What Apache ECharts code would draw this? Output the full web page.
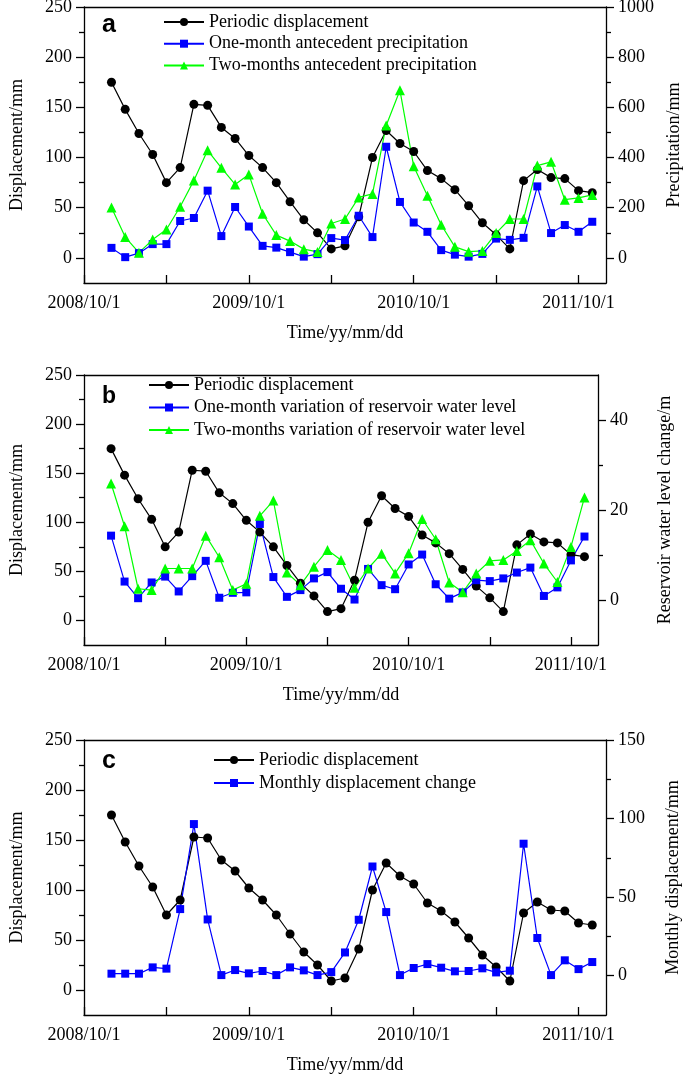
<!DOCTYPE html>
<html>
<head>
<meta charset="utf-8">
<script src="https://cdn.jsdelivr.net/npm/echarts@6/dist/echarts.min.js"></script>
<style>
  html, body { margin: 0; padding: 0; background: #fff; }
  #chart { width: 685px; height: 1079px; }
</style>
</head>
<body>
<div id="chart"></div>
<script>
// Monthly observation dates (first day of each month)
const months = [
  '2008/12/1', '2009/1/1', '2009/2/1', '2009/3/1', '2009/4/1', '2009/5/1',
  '2009/6/1', '2009/7/1', '2009/8/1', '2009/9/1', '2009/10/1', '2009/11/1',
  '2009/12/1', '2010/1/1', '2010/2/1', '2010/3/1', '2010/4/1', '2010/5/1',
  '2010/6/1', '2010/7/1', '2010/8/1', '2010/9/1', '2010/10/1', '2010/11/1',
  '2010/12/1', '2011/1/1', '2011/2/1', '2011/3/1', '2011/4/1', '2011/5/1',
  '2011/6/1', '2011/7/1', '2011/8/1', '2011/9/1', '2011/10/1', '2011/11/1'
];
const dateTickLabels = ['2008/10/1', '2009/10/1', '2010/10/1', '2011/10/1'];

// Periodic displacement (mm), same in all panels
const periodicDisp = [175, 148, 124, 103, 75, 90, 153, 152, 130, 119, 102, 90,
  75, 56, 38, 25, 9, 12, 41, 100, 127, 114, 106, 87,
  79, 68, 52, 35, 23, 9, 77, 88, 80, 79, 67, 65];
// Panel a: antecedent precipitation (mm)
const precipOneMonth = [40, 3, 19, 55, 55, 147, 159, 268, 87, 203, 125, 48,
  41, 23, 5, 15, 79, 71, 168, 83, 443, 223, 141, 104,
  31, 13, 5, 16, 77, 72, 80, 285, 99, 131, 104, 144];
const precipTwoMonths = [201, 83, 21, 73, 113, 204, 309, 429, 359, 293, 332, 176,
  91, 67, 35, 24, 137, 155, 241, 255, 528, 668, 365, 248,
  132, 44, 25, 28, 99, 155, 155, 368, 383, 232, 239, 251];
// Panel b: variation of reservoir water level (m)
const reservoirOneMonth = [14.3, 4.1, 0.4, 3.9, 5.2, 1.9, 5.3, 8.7, 0.5, 1.6, 1.7, 16.9,
  5.1, 0.7, 2.2, 4.8, 6.2, 2.5, 0.1, 6.9, 3.3, 2.4, 7.9, 10.1,
  3.5, 0.3, 1.7, 4.4, 4.2, 4.8, 6.1, 7.2, 0.9, 2.8, 8.8, 14.1];
const reservoirTwoMonths = [25.9, 16.4, 2.5, 2.2, 7.0, 7.0, 7.0, 14.3, 9.5, 2.2, 3.6, 18.7,
  22.1, 6.1, 3.3, 7.4, 11.1, 8.9, 2.7, 7.0, 10.3, 5.9, 10.4, 18.0,
  13.5, 3.9, 1.7, 5.9, 8.7, 8.9, 10.9, 13.3, 8.1, 4.0, 11.8, 22.8];
// Panel c: monthly displacement change (mm)
const monthlyChange = [1.3, 1.3, 1.3, 5.3, 4.5, 42.4, 96.5, 35.8, 0.4, 3.6, 1.5, 3.0,
  0.4, 5.3, 3.4, 0.4, 2.3, 14.8, 35.6, 69.5, 40.5, 0.4, 4.9, 7.4,
  5.1, 2.8, 3.0, 4.7, 2.1, 3.2, 84.0, 24.0, 0.4, 9.8, 4.2, 8.7];

const chart = echarts.init(document.getElementById('chart'), null, { renderer: 'canvas' });
const serif = 'Liberation Serif';
const black = '#000';
const frame = { color: black, width: 1.3 };

// months since 2008/10/1 -> position on the x value axis
function monthIndex(s) {
  const [y, m] = s.split('/').map(Number);
  return (y - 2008) * 12 + (m - 10);
}
const xs = months.map(monthIndex);
const pairs = vals => vals.map((v, i) => [xs[i], v]);

function range(from, to, step) {
  const out = [];
  for (let v = from; v <= to + 1e-9; v += step) out.push(v);
  return out;
}

const grids = [
  { left: 84, right: 79, top: 7, bottom: 796 },
  { left: 84, right: 87, top: 375, bottom: 434 },
  { left: 84, right: 79, top: 740, bottom: 64 }
];

const bottomAxes = grids.map((g, i) => ({
  type: 'value', gridIndex: i, position: 'bottom', min: 0, max: 38,
  name: 'Time/yy/mm/dd',
  nameLocation: 'middle',
  nameGap: 41,
  nameTextStyle: { fontFamily: serif, fontSize: 18, color: black },
  axisLine: { onZero: false, lineStyle: frame },
  axisTick: { inside: true, length: 8, lineStyle: frame, customValues: range(0, 36, 6) },
  axisLabel: { customValues: [0, 12, 24, 36], margin: 11,
    formatter: v => dateTickLabels[Math.round(v / 12)],
    fontFamily: serif, fontSize: 18, color: black },
  splitLine: { show: false }
}));
// top edge of each frame
const topAxes = grids.map((g, i) => ({
  type: 'value', gridIndex: i, position: 'top', min: 0, max: 38,
  axisLine: { show: true, onZero: false, lineStyle: frame },
  axisTick: { show: false }, axisLabel: { show: false }, splitLine: { show: false }
}));

// main axis (line, major ticks, labels) plus an overlay axis for minor ticks
function yPair(gridIndex, position, min, max, majors, minors, name, nameGap) {
  const main = {
    type: 'value', gridIndex, position, min, max,
    name, nameLocation: 'middle', nameGap, nameRotate: 90,
    nameTextStyle: { fontFamily: serif, fontSize: 18, color: black },
    axisLine: { show: true, onZero: false, lineStyle: frame },
    axisTick: { show: true, length: 8, customValues: majors, lineStyle: frame },
    axisLabel: { customValues: majors, margin: 12, formatter: v => String(v),
      fontFamily: serif, fontSize: 18, color: black },
    splitLine: { show: false }
  };
  const minor = {
    type: 'value', gridIndex, position, min, max,
    axisLine: { show: false, onZero: false },
    axisTick: { show: true, length: 5, customValues: minors, lineStyle: frame },
    axisLabel: { show: false },
    splitLine: { show: false }
  };
  return [main, minor];
}

const yAxes = [
  ...yPair(0, 'left', -25, 250, range(0, 250, 50), range(25, 225, 50), 'Displacement/mm', 58),
  ...yPair(0, 'right', -100, 1000, range(0, 1000, 200), range(100, 900, 200), 'Precipitation/mm', 59),
  ...yPair(1, 'left', -25, 250, range(0, 250, 50), range(25, 225, 50), 'Displacement/mm', 58),
  ...yPair(1, 'right', -10, 50, [0, 20, 40], [10, 30], 'Reservoir water level change/m', 58),
  ...yPair(2, 'left', -25, 250, range(0, 250, 50), range(25, 225, 50), 'Displacement/mm', 58),
  ...yPair(2, 'right', -25, 150, [0, 50, 100, 150], [25, 75, 125], 'Monthly displacement/mm', 58)
];

const styles = {
  black: { color: black, symbol: 'circle', symbolSize: 9 },
  blue: { color: '#0000ff', symbol: 'rect', symbolSize: 8 },
  green: { color: '#00ff00', symbol: 'triangle', symbolSize: 10 }
};

function line(name, data, xi, yi, style) {
  return {
    name, type: 'line', data: pairs(data),
    xAxisIndex: xi, yAxisIndex: yi,
    symbol: style.symbol, symbolSize: style.symbolSize,
    showAllSymbol: true,
    itemStyle: { color: style.color },
    lineStyle: { color: style.color, width: 1.2 },
    animation: false
  };
}

const series = [
  line('Periodic displacement', periodicDisp, 0, 0, styles.black),
  line('One-month antecedent precipitation', precipOneMonth, 0, 2, styles.blue),
  line('Two-months antecedent precipitation', precipTwoMonths, 0, 2, styles.green),
  line('Periodic displacement', periodicDisp, 1, 4, styles.black),
  line('One-month variation of reservoir water level', reservoirOneMonth, 1, 6, styles.blue),
  line('Two-months variation of reservoir water level', reservoirTwoMonths, 1, 6, styles.green),
  line('Periodic displacement', periodicDisp, 2, 8, styles.black),
  line('Monthly displacement change', monthlyChange, 2, 10, styles.blue)
];

function legend(names, left, top, gap) {
  return {
    data: names, orient: 'vertical', left, top, padding: 0,
    itemWidth: 40, itemHeight: 10, itemGap: gap, itemTextGap: 6,
    selectedMode: false,
    textStyle: { fontFamily: serif, fontSize: 18, color: black, lineHeight: 18 }
  };
}

function letter(text, left, top, size) {
  return {
    text, left, top, padding: 0,
    textStyle: { fontFamily: 'Liberation Sans', fontWeight: 'bold', fontSize: size, color: black }
  };
}

chart.setOption({
  backgroundColor: '#fff',
  animation: false,
  title: [letter('a', 102, 13, 25), letter('b', 102, 385, 23), letter('c', 102, 749, 25)],
  grid: grids.map(g => Object.assign({ show: false, outerBoundsMode: 'none' }, g)),
  xAxis: [...bottomAxes, ...topAxes],
  yAxis: yAxes,
  legend: [
    legend(['Periodic displacement', 'One-month antecedent precipitation', 'Two-months antecedent precipitation'], 163, 13, 3.7),
    legend(['Periodic displacement', 'One-month variation of reservoir water level', 'Two-months variation of reservoir water level'], 148, 376, 4.5),
    legend(['Periodic displacement', 'Monthly displacement change'], 213, 751, 5)
  ],
  series
});
</script>
</body>
</html>
